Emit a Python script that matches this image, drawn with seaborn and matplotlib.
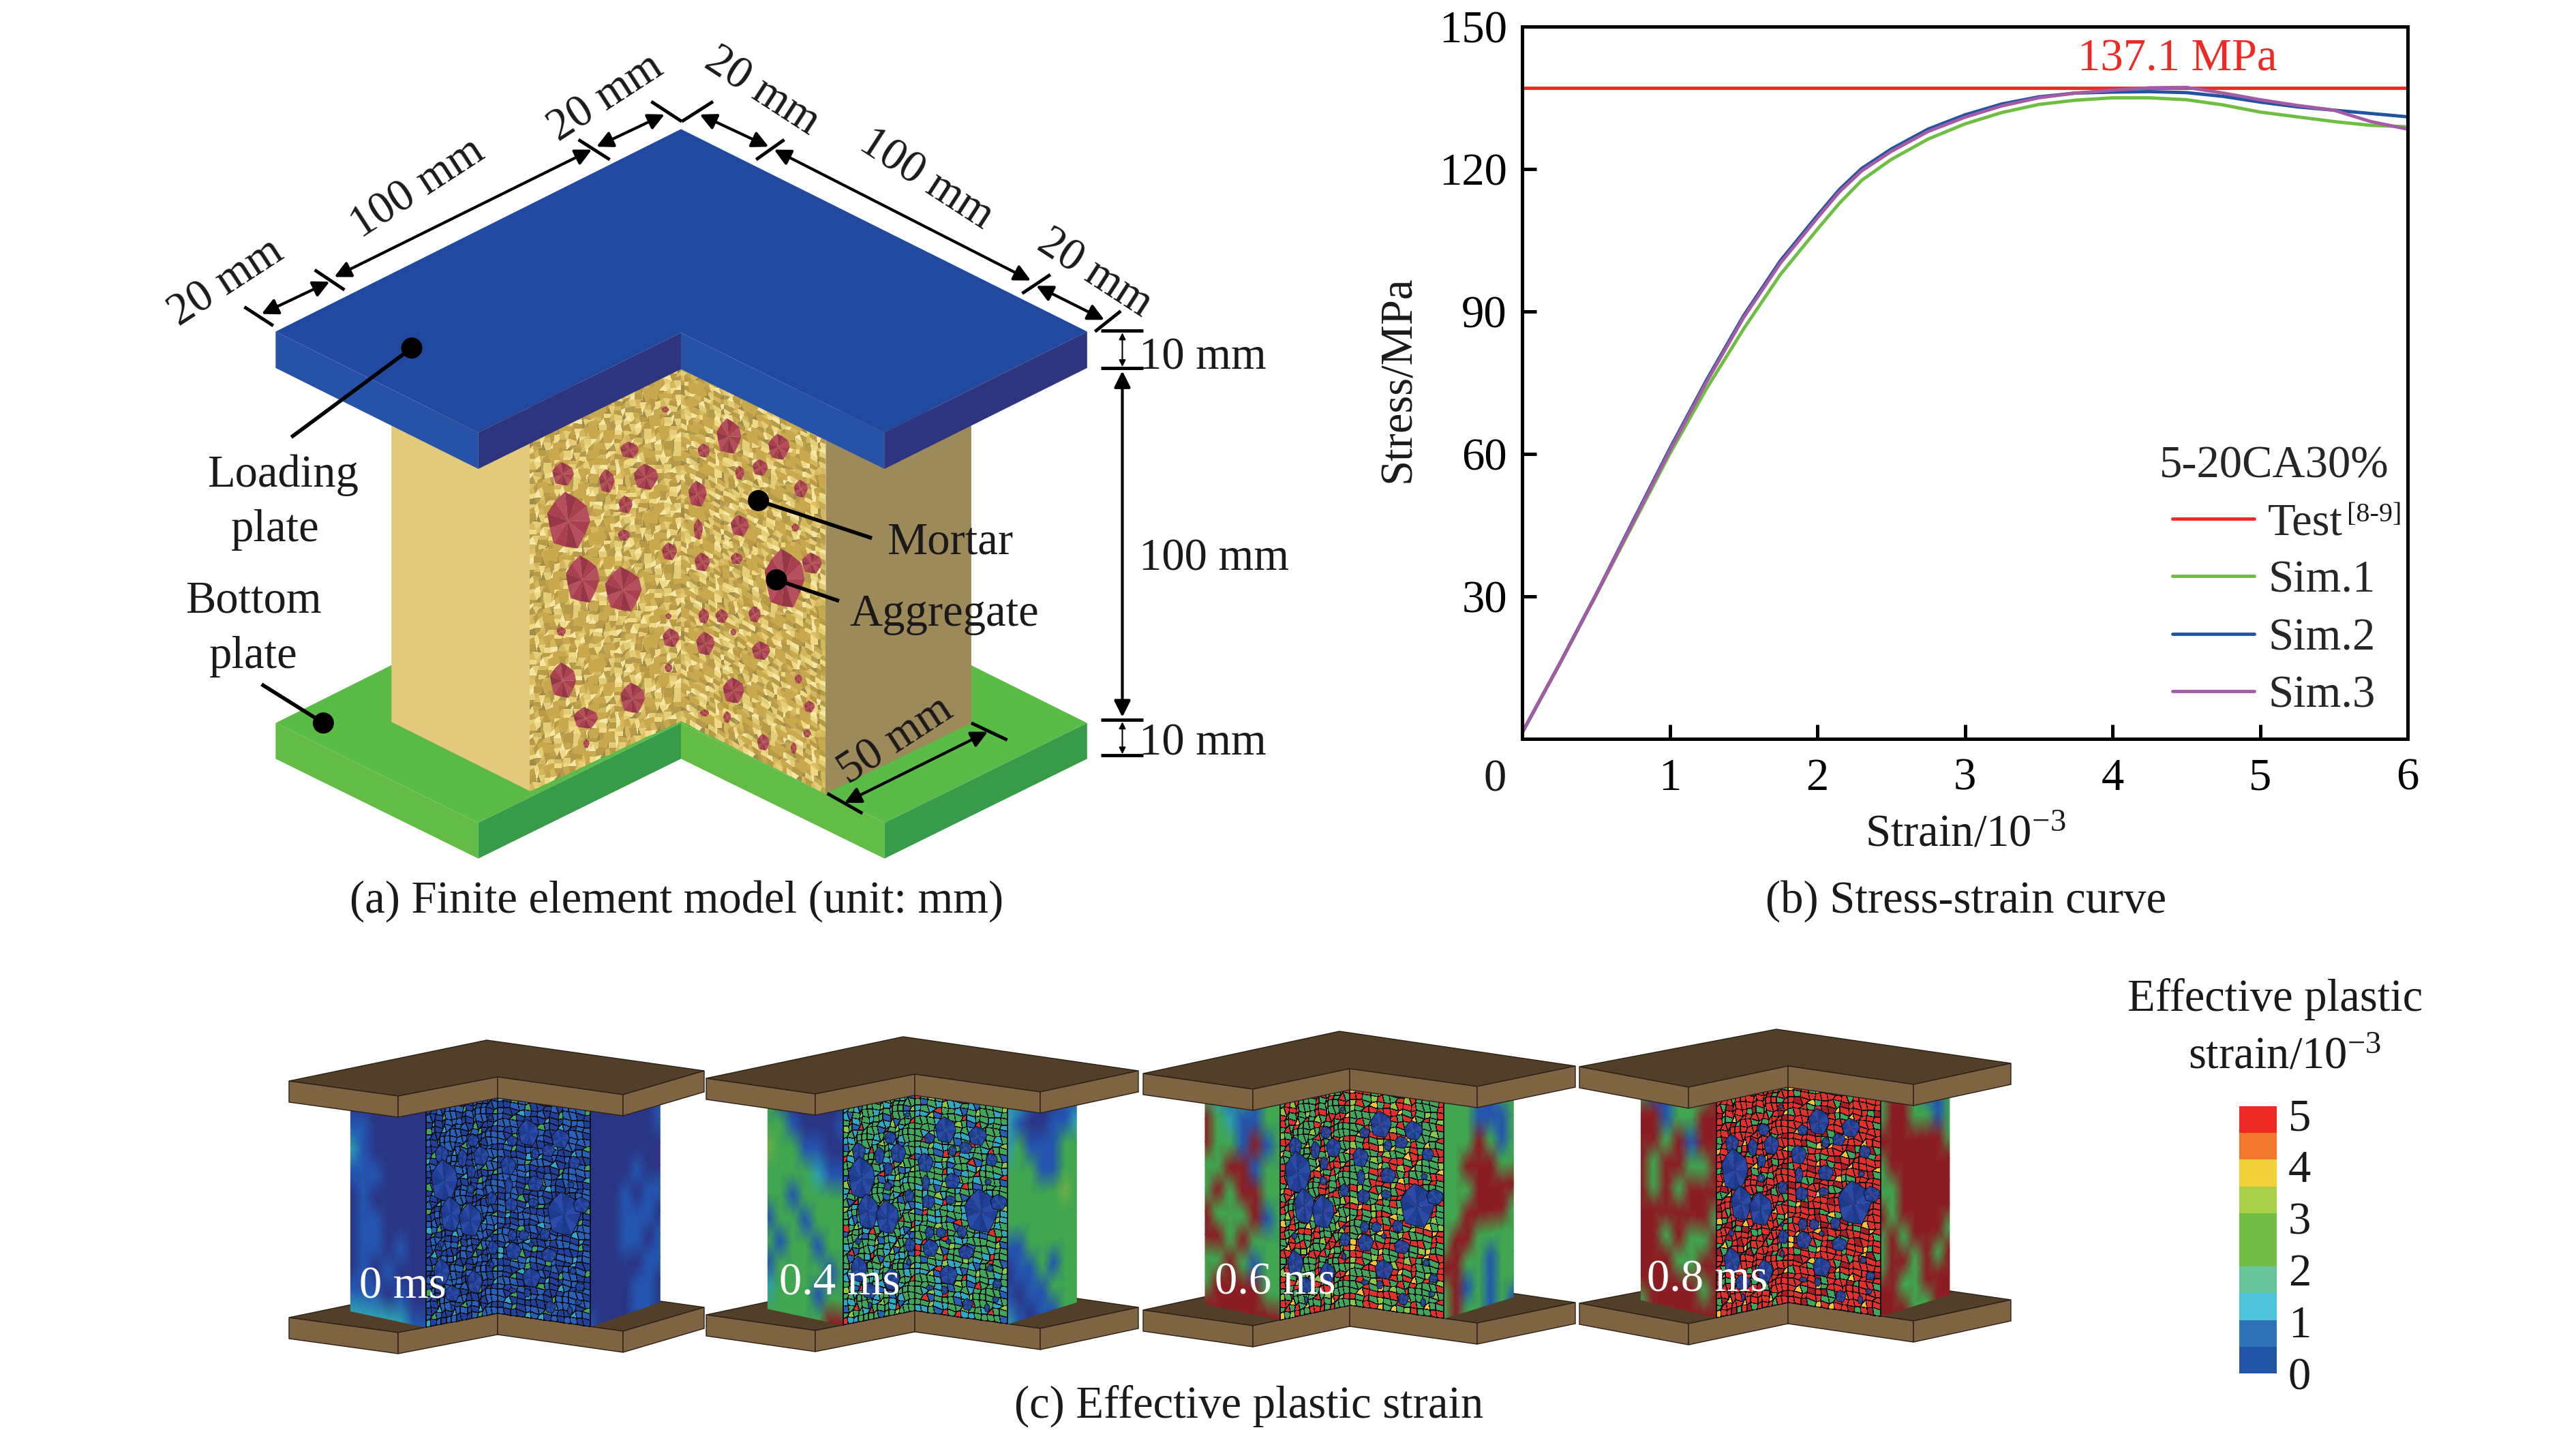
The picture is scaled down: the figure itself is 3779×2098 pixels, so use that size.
import numpy as np
import pandas as pd
import matplotlib
matplotlib.use("Agg")
import matplotlib.pyplot as plt
from matplotlib.colors import LinearSegmentedColormap, ListedColormap
from matplotlib.patches import Ellipse, Polygon
import seaborn as sns

sns.set_theme(style="ticks")
plt.rcParams["font.family"] = ["Liberation Serif", "DejaVu Serif"]
plt.rcParams["mathtext.fontset"] = "custom"
plt.rcParams["mathtext.rm"] = "Liberation Serif"
plt.rcParams["mathtext.default"] = "regular"

W, H = 3779, 2098
FS = 48
TY = 6  # loose text sits a little lower than its centre
INK = "#1a1a1a"

# ---------------------------------------------------------------
# Data: stress-strain curves
# ---------------------------------------------------------------
strain = [0, 0.25, 0.5, 0.75, 1, 1.25, 1.5, 1.75, 2, 2.15, 2.3, 2.5, 2.75, 3,
          3.25, 3.5, 3.75, 4, 4.25, 4.5, 4.75, 5, 5.25, 5.5, 5.75, 6]
sim1 = [1.3, 15.5, 30.2, 45.1, 60, 73.8, 86.3, 97.8, 107.3, 112.8, 117.6, 122, 126.3, 129.5,
        131.9, 133.6, 134.5, 135, 135, 134.6, 133.5, 132, 131, 130, 129.2, 128.9]
sim2 = [1.3, 15.6, 30.4, 45.8, 61.1, 75.6, 89.1, 100.7, 110.2, 115.7, 120.1, 124.2, 128.4, 131.4,
        133.7, 135.2, 136, 136.2, 136.3, 136.1, 135.3, 134.1, 133.1, 132.4, 131.7, 131]
sim3 = [1.3, 15.6, 30.3, 45.5, 60.7, 75.2, 88.7, 100.2, 109.7, 115.2, 119.6, 123.7, 127.9, 130.9,
        133.3, 135, 136, 136.6, 137.1, 137.2, 136, 134.6, 133.4, 132.4, 130, 128.4]
test_x = [0, 6]
test_y = [137.1, 137.1]

series_names = ["Test", "Sim.1", "Sim.2", "Sim.3"]
series_colors = ["#EE2A24", "#6FBE44", "#2153A3", "#A45BA5"]
y_ticks = [30, 60, 90, 120, 150]
x_ticks = [1, 2, 3, 4, 5, 6]

legend_levels = ["5", "4", "3", "2", "1", "0"]
level_colors = ["#EE2A24", "#F4772E", "#F2D13A", "#A8CF45", "#72BE44",
                "#72BE44", "#68C59A", "#4DC4DC", "#2E72B8", "#2155A6"]
time_labels = ["0 ms", "0.4 ms", "0.6 ms", "0.8 ms"]

# strain level per cell of the side faces, read by eye, top row first
field_left = [
    ["0000000", "1100000", "2100000", "1110000", "0100000",
     "0110000", "0110100", "0101000", "1110100", "2222211"],
    ["3100000", "3310001", "4331100", "3333211", "3313333",
     "1331333", "3133133", "1333313", "2333133", "3333366"],
    ["3213133", "6321133", "6331613", "3366133", "3636633",
     "6333613", "6636333", "3363133", "3666633", "6666666"],
    ["3113336", "6613366", "6636166", "6366336", "6363666",
     "6666663", "6636336", "6663366", "6666636", "3666666"],
]
field_right = [
    ["0000001", "0000001", "0000000", "0000100", "0001011",
     "0001110", "0001101", "0000011", "0000110", "1000110"],
    ["2210011", "2100112", "2311133", "3331133", "3333343",
     "3333333", "1133333", "0113133", "1011333", "2101133"],
    ["3331133", "3331113", "3336313", "3366633", "3336666",
     "3366663", "3663333", "6633133", "3613133", "3633131"],
    ["3663113", "3663313", "6666663", "3666666", "3366666",
     "6366666", "3636663", "3663636", "6633666", "6663366"],
]

# mesh cells of the cut faces: digits are mortar groups
mesh_grid = [
    "38527941736251948593",
    "27613008294570713682",
    "61480027360018642957",
    "49273654190023628174",
    "85190736281749500236",
    "37245001958274073641",
    "62800063417300028295",
    "14900028369200091474",
    "58372900729164738265",
    "92645341738500624193",
    "30917358264009175386",
    "74286006193800472651",
    "16490029574168300392",
    "83720041628374500471",
    "29517373915620036284",
    "64718200483700295147",
    "51936400172958463820",
    "87245658364100074290",
    "42009172530061685372",
    "36100482917658194603",
    "95827360514900372641",
    "18452936810059273840",
    "73061497200618500394",
    "26400381529761007394",
    "59174273648005291608",
    "41836950281736942817",
]
# colour index in mesh_colors for each mesh digit, one row per time step
mesh_luts = [
    [1, 0, 0, 1, 0, 1, 1, 0, 3, 2],
    [3, 1, 2, 3, 3, 3, 2, 3, 4, 6],
    [3, 6, 3, 3, 6, 3, 4, 6, 6, 5],
    [6, 3, 6, 6, 7, 3, 6, 6, 6, 5],
]
mesh_colors = ["#22409A", "#2860B8", "#30A8C0", "#3FA65A",
               "#8DC63F", "#F4C430", "#E0322B", "#A81E24"]
mortar_shades = ["#C9A94E", "#E3CD76", "#B99B45", "#EFD985", "#D4B75C",
                 "#B39A4E", "#F5E6A8", "#C2A34D", "#DDBF63", "#A08C4A"]

# aggregates on the cut faces of panel (a): x, y, rx, ry in zoom units
aggregates = [
    (545, 808, 14, 20), (601, 820, 10, 20), (651, 813, 16, 22), (630, 767, 12, 14),
    (552, 888, 28, 48), (625, 860, 9, 15), (623, 912, 8, 10), (570, 988, 22, 40),
    (622, 1005, 24, 38), (681, 940, 10, 15), (543, 1076, 6, 8), (683, 1087, 11, 16),
    (545, 1160, 17, 30), (634, 1190, 16, 26), (574, 1224, 16, 18), (575, 1267, 4, 8),
    (680, 1138, 5, 8), (676, 698, 5, 5), (757, 744, 16, 30), (821, 762, 14, 22),
    (725, 768, 8, 12), (797, 797, 10, 14), (771, 806, 6, 12), (849, 833, 9, 15),
    (717, 842, 12, 22), (771, 896, 12, 18), (718, 902, 6, 18), (842, 899, 5, 7),
    (723, 958, 10, 16), (767, 952, 8, 10), (828, 987, 26, 50), (863, 960, 13, 18),
    (725, 1050, 7, 13), (748, 1050, 8, 12), (790, 1047, 8, 14), (763, 1077, 4, 6),
    (727, 1097, 12, 20), (798, 1109, 12, 16), (763, 1177, 14, 22), (846, 1157, 5, 8),
    (860, 1204, 7, 10), (726, 1215, 6, 6), (755, 1222, 5, 10), (857, 1250, 5, 7),
    (801, 1265, 8, 14), (840, 1275, 4, 10), (680, 1050, 4, 5),
]
blob_radii = [1.0, 0.9, 1.06, 0.92, 1.03, 0.88, 1.0, 0.93, 1.05, 0.9, 1.0]
blob_red = ["#A8404F", "#B54E5E", "#953748"]
blob_navy = ["#22409A", "#2A4BA8", "#1E3A8C"]

# specimens of panel (c): left, apex, right, front-left, notch, front-right
specimens = [
    [(424, 1586), (714, 1526), (1033, 1571), (584, 1608), (730, 1580), (914, 1606)],
    [(1036, 1582), (1325, 1521), (1670, 1571), (1196, 1605), (1342, 1576), (1526, 1602)],
    [(1677, 1575), (1965, 1513), (2311, 1564), (1838, 1598), (1980, 1568), (2167, 1594)],
    [(2317, 1565), (2606, 1510), (2950, 1560), (2477, 1595), (2623, 1564), (2807, 1591)],
]
right_edge_frac = [0.456, 0.37, 0.37, 0.37]
time_label_pos = [(591, 1888), (1232, 1883), (1871, 1882), (2505, 1878)]

fig = plt.figure(figsize=(W / 100, H / 100), dpi=100, facecolor="white")

# full-figure axes in pixels, for the schematic drawings and loose text
bg = fig.add_axes([0, 0, 1, 1], zorder=0)
bg.set_xlim(0, W)
bg.set_ylim(H, 0)
bg.axis("off")


def pa(x, y):
    # zoom coordinates of panel (a) to figure pixels
    return 200 + 1.148 * x, 0.861 * y


def poly(points, color, edge="none", lw=0):
    bg.add_patch(Polygon(points, closed=True, facecolor=color, edgecolor=edge, linewidth=lw))


def face_xy(xl, xr, ytl, ytr, ybl, ybr, nu, nv):
    u = np.linspace(0, 1, nu)
    v = np.linspace(0, 1, nv)
    uu, vv = np.meshgrid(u, v)
    xx = xl + (xr - xl) * uu
    top = ytl + (ytr - ytl) * uu
    bot = ybl + (ybr - ybl) * uu
    return xx, top + (bot - top) * vv


def blob(cx, cy, rx, ry, shades, edge=None):
    # faceted grain, drawn as a fan of triangles
    n = len(blob_radii)
    rim = [(cx + rx * blob_radii[k] * np.cos(2 * np.pi * k / n),
            cy + ry * blob_radii[k] * np.sin(2 * np.pi * k / n)) for k in range(n)]
    for k in range(n):
        poly([(cx, cy), rim[k], rim[(k + 1) % n]], shades[k % 3])
    if edge:
        bg.add_patch(Polygon(rim, closed=True, facecolor="none", edgecolor=edge, linewidth=0.7))


# ---------------------------------------------------------------
# Panel (a): finite element model
# ---------------------------------------------------------------
def plate(top, thick, top_col, light, dark):
    L, A, R, FL, N, FR = [pa(*p) for p in top]
    d = pa(0, thick)[1]
    poly([L, A, R, FR, N, FL], top_col)
    for p, q, c in [(L, FL, light), (FL, N, dark), (N, FR, light), (FR, R, dark)]:
        poly([p, q, (q[0], q[1] + d), (p[0], p[1] + d)], c)


plate([(178, 1232), (696, 887), (1215, 1232), (437, 1402), (696, 1232), (956, 1402)], 61,
      "#5BBB47", "#63BC46", "#389B4A")

# column: plain outer faces
poly([pa(326, 700), pa(503, 700), pa(503, 1348), pa(326, 1230)], "#E3C97C")
poly([pa(881, 700), pa(1067, 700), pa(1067, 1232), pa(881, 1352)], "#9C8A5A")

# column: cut faces with the mortar mesh
mesh_arr = np.array([[int(c) for c in row] for row in mesh_grid])
mesh_big = np.tile(mesh_arr, (3, 3))
mortar_cmap = ListedColormap(mortar_shades)
for a, b, c, d, col in [(503, 696, 680, 600, mesh_big[:, :30]), (696, 881, 600, 680, mesh_big[:, 30:])]:
    xl, ytl = pa(a, c)
    xr, ytr = pa(b, d)
    ybl = pa(a, 1348 if a == 503 else 1228)[1]
    ybr = pa(b, 1228 if a == 503 else 1352)[1]
    nv, nu = col.shape
    xx, yy = face_xy(xl, xr, ytl, ytr, ybl, ybr, nu + 1, nv + 1)
    off = np.zeros_like(xx)
    off[1:-1, 1:-1] = col[1:, 1:] - 4.5
    bg.pcolormesh(xx + off * 0.7, yy + off * 0.7, col, cmap=mortar_cmap, vmin=0, vmax=9, shading="flat")

for x, y, rx, ry in aggregates:
    cx, cy = pa(x, y)
    blob(cx, cy, 1.148 * rx, 0.861 * ry, blob_red)

plate([(178, 565), (696, 220), (1215, 565), (437, 737), (696, 567), (956, 737)], 62,
      "#2149A0", "#2653A8", "#2F347F")


def dim_line(p, q, lw=3, size=36):
    bg.annotate("", xy=pa(*q), xytext=pa(*p),
                arrowprops=dict(arrowstyle="<|-|>", color="black", lw=lw, shrinkA=0, shrinkB=0,
                                mutation_scale=size, fill=True))


def seg(p, q, lw=3.5):
    a, b = pa(*p), pa(*q)
    bg.plot([a[0], b[0]], [a[1], b[1]], color="black", lw=lw, solid_capstyle="butt")


for p, q in [((138, 523), (175, 555)), ((228, 460), (266, 494)), ((565, 238), (605, 272)),
             ((658, 173), (697, 207)), ((697, 207), (737, 173)), ((792, 272), (828, 238)),
             ((1132, 500), (1168, 468)), ((1225, 565), (1258, 530)),
             ((1233, 563), (1287, 563)), ((1233, 627), (1287, 627)),
             ((1233, 1226), (1287, 1226)), ((1233, 1287), (1287, 1287)),
             ((1067, 1232), (1113, 1261)), ((883, 1352), (928, 1386))]:
    seg(p, q)

for p, q in [((160, 535), (247, 480)), ((253, 472), (582, 255)), ((588, 250), (675, 195)),
             ((720, 195), (808, 250)), ((815, 255), (1143, 478)), ((1150, 487), (1237, 545)),
             ((1260, 632), (1260, 1222)), ((905, 1368), (1088, 1247))]:
    dim_line(p, q)
for p, q in [((1260, 567), (1260, 625)), ((1260, 1230), (1260, 1285))]:
    dim_line(p, q, lw=1.5, size=14)

for dot, end in [((352, 593), (198, 745)), ((239, 1232), (160, 1166)),
                 ((795, 853), (940, 917)), ((818, 988), (898, 1024))]:
    seg(dot, end, lw=4)
    cx, cy = pa(*dot)
    bg.add_patch(Ellipse((cx, cy), 31, 31, facecolor="black", edgecolor="none", zorder=2))

for txt, x, y, rot in [("20 mm", 332, 409, 33), ("100 mm", 613, 271, 33), ("20 mm", 889, 138, 33),
                       ("20 mm", 1118, 129, -33), ("100 mm", 1359, 258, -33), ("20 mm", 1606, 396, -33),
                       ("10 mm", 1764, 519, 0), ("100 mm", 1781, 814, 0), ("10 mm", 1764, 1085, 0),
                       ("50 mm", 1314, 1081, 33), ("Loading", 415, 691, 0), ("plate", 404, 772, 0),
                       ("Bottom", 372, 876, 0), ("plate", 372, 957, 0), ("Mortar", 1394, 790, 0),
                       ("Aggregate", 1385, 895, 0)]:
    bg.text(x, y + TY, txt, fontsize=FS, rotation=rot, color=INK, ha="center", va="center", rotation_mode="anchor")

# ---------------------------------------------------------------
# Panel (c): effective plastic strain on four specimens
# ---------------------------------------------------------------
field_cmap = LinearSegmentedColormap.from_list(
    "field", ["#2A3585", "#2456B0", "#2E9FB0", "#3FA650", "#6DAE45", "#B8632E", "#8B1E24"])
mesh_cmap = ListedColormap(mesh_colors)
THICK = 31
DROP = 347
mesh_tile = np.tile(mesh_arr, (2, 2))[:36]


def grid_of(rows):
    return np.array([[int(c) for c in r] for r in rows], dtype=float)


for i, (L, A, R, FL, N, FR) in enumerate(specimens):
    def sh(p, dy):
        return (p[0], p[1] + dy)

    # bottom plate
    poly([sh(p, DROP) for p in (L, A, R, FR, N, FL)], "#523F2A", "#2a2016", 1)
    for p, q in [(L, FL), (FL, N), (N, FR), (FR, R)]:
        poly([sh(p, DROP), sh(q, DROP), sh(q, DROP + THICK), sh(p, DROP + THICK)], "#7F6444", "#2a2016", 1)

    cl = L[0] + 0.565 * (FL[0] - L[0])
    m1 = FL[0] + 0.28 * (N[0] - FL[0])
    m2 = N[0] + 0.74 * (FR[0] - N[0])
    cr = FR[0] + right_edge_frac[i] * (R[0] - FR[0])

    def under(p, q, x):
        return p[1] + (q[1] - p[1]) * (x - p[0]) / (q[0] - p[0])

    # side faces, smooth fields
    yt_l = under(L, FL, cl) + THICK - 12
    yb_l = under(L, FL, cl) + DROP - 22
    yt_m1 = under(FL, N, m1) + THICK - 12
    yb_m1 = under(FL, N, m1) + DROP
    yt_m2 = under(N, FR, m2) + THICK - 12
    yb_m2 = under(N, FR, m2) + DROP
    yt_r = under(FR, R, cr) + THICK - 12
    yb_r = under(FR, R, cr) + DROP - 27

    for rows, (xa, xb, ta, tb, ba, bb) in [
        (field_left[i], (cl, m1, yt_l, yt_m1, yb_l, yb_m1)),
        (field_right[i], (m2, cr, yt_m2, yt_r, yb_m2, yb_r)),
    ]:
        g = grid_of(rows)
        xx, yy = face_xy(xa, xb, ta, tb, ba, bb, g.shape[1], g.shape[0])
        bg.pcolormesh(xx, yy, g, cmap=field_cmap, vmin=0, vmax=6, shading="gouraud")

    # cut faces, meshed
    lut = np.array(mesh_luts[i])
    for col, (xa, xb, ta, tb, ba, bb) in [
        (mesh_tile[:, :14], (m1, N[0], yt_m1, N[1] + THICK - 4, yb_m1, N[1] + DROP)),
        (mesh_tile[:, 14:28], (N[0], m2, N[1] + THICK - 4, yt_m2, N[1] + DROP, yb_m2)),
    ]:
        nv, nu = col.shape
        xx, yy = face_xy(xa, xb, ta, tb, ba, bb, nu + 1, nv + 1)
        off = np.zeros_like(xx)
        off[1:-1, 1:-1] = col[1:, 1:] - 4.5
        bg.pcolormesh(xx + off * 0.6, yy + off * 0.6, lut[col], cmap=mesh_cmap, vmin=0, vmax=7,
                      shading="flat", edgecolors="#101018", linewidth=0.35)

    # the same grains as panel (a), squeezed onto this specimen's cut faces
    y_top, y_bot = N[1] + THICK, N[1] + DROP + 18
    for x, y, rx, ry in aggregates:
        if x < 696:
            sx = (N[0] - m1) / 193
            cx = m1 + (x - 503) * sx
        else:
            sx = (m2 - N[0]) / 185
            cx = N[0] + (x - 696) * sx
        sy = (y_bot - y_top) / 680
        cy = y_top + (y - 640) * sy
        blob(cx, cy, 1.3 * rx * sx, 1.3 * ry * sy, blob_navy, edge="#101018")

    # top plate
    poly([L, A, R, FR, N, FL], "#523F2A", "#2a2016", 1)
    for p, q in [(L, FL), (FL, N), (N, FR), (FR, R)]:
        poly([p, q, sh(q, THICK), sh(p, THICK)], "#7F6444", "#2a2016", 1)

    tx, ty = time_label_pos[i]
    bg.text(tx, ty, time_labels[i], fontsize=FS, color="white", ha="center", va="center")

# ---------------------------------------------------------------
# Panel (b): stress-strain curve
# ---------------------------------------------------------------
frames = [pd.DataFrame({"strain": test_x, "stress": test_y, "series": series_names[0]})]
for name, vals in zip(series_names[1:], [sim1, sim2, sim3]):
    frames.append(pd.DataFrame({"strain": strain, "stress": vals, "series": name}))
curves = pd.concat(frames, ignore_index=True)

ax = fig.add_axes([2233 / W, 1 - 1084 / H, 1299 / W, 1045 / H], zorder=2)
sns.lineplot(data=curves, x="strain", y="stress", hue="series", hue_order=series_names,
             palette=series_colors, linewidth=3.5, errorbar=None, ax=ax)
ax.set_xlim(0, 6)
ax.set_ylim(0, 150)
ax.set_xticks(x_ticks)
ax.set_yticks(y_ticks)
ax.tick_params(direction="in", length=15, width=3.6, labelsize=FS, colors="black")
ax.tick_params(axis="x", pad=20)
ax.tick_params(axis="y", pad=16)
for spine in ax.spines.values():
    spine.set_visible(True)
    spine.set_linewidth(3.6)
    spine.set_color("black")
ax.set_xlabel("")
ax.set_ylabel("")
ax.patch.set_alpha(0)

leg = ax.legend(title="5-20CA30%", frameon=False, fontsize=FS, title_fontsize=FS,
                loc="lower right", bbox_to_anchor=(0.994, 0.012), handlelength=1.8, handletextpad=0.3,
                labelspacing=0.35, borderaxespad=0.1, borderpad=0.2)
leg._legend_box.align = "center"

bg.text(3194, 103, "137.1 MPa", fontsize=FS, color=series_colors[0], ha="center", va="baseline", zorder=5)
bg.text(3443, 756, "[8-9]", fontsize=29, color=INK, ha="left", va="center")
bg.text(2193, 1138 + TY, "0", fontsize=FS, color=INK, ha="center", va="center")
bg.text(2051, 556, "Stress/MPa", fontsize=FS, color=INK, rotation=90, ha="center", va="center")
bg.text(2883, 1219 + TY, "Strain/10$^{-3}$", fontsize=FS, color=INK, ha="center", va="center")

# subtitles
bg.text(993, 1316 + TY, "(a) Finite element model (unit: mm)", fontsize=FS, color=INK, ha="center", va="center")
bg.text(2884, 1316 + TY, "(b) Stress-strain curve", fontsize=FS, color=INK, ha="center", va="center")
bg.text(1832, 2057 + TY, "(c) Effective plastic strain", fontsize=FS, color=INK, ha="center", va="center")

# ---------------------------------------------------------------
# Colour scale of panel (c)
# ---------------------------------------------------------------
bg.text(3338, 1460 + TY, "Effective plastic", fontsize=FS, color=INK, ha="center", va="center")
bg.text(3352, 1545 + TY, "strain/10$^{-3}$", fontsize=FS, color=INK, ha="center", va="center")

cax = fig.add_axes([3285 / W, 1 - 2015 / H, 55 / W, 392 / H], zorder=2)
levels = np.arange(len(level_colors)).reshape(-1, 1)
sns.heatmap(levels, cmap=ListedColormap(level_colors), cbar=False, ax=cax,
            xticklabels=False, yticklabels=False)
cax.yaxis.tick_right()
cax.set_yticks(np.linspace(0.3, 10, len(legend_levels)))
cax.set_yticklabels(legend_levels, rotation=0, fontsize=FS, color=INK)
cax.tick_params(axis="y", length=0, pad=12, right=False)

fig.savefig("out.png", dpi=100)
